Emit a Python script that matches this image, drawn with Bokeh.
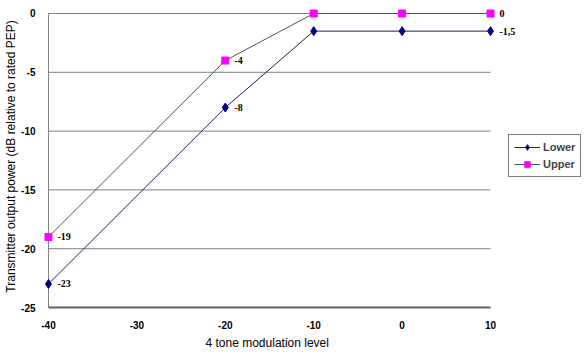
from bokeh.plotting import figure
from bokeh.models import Range1d, ColumnDataSource, LabelSet, Legend, LegendItem, FixedTicker, Title
from bokeh.embed import file_html
from bokeh.resources import INLINE

# Data
levels = [-40, -20, -10, 0, 10]
lower = [-23, -8, -1.5, -1.5, -1.5]
upper = [-19, -4, 0, 0, 0]
lower_lbl_x = [-40, -20, 10]
lower_lbl_y = [-23, -8, -1.5]
lower_lbl = ["-23", "-8", "-1,5"]
upper_lbl_x = [-40, -20, 10]
upper_lbl_y = [-19, -4, 0]
upper_lbl = ["-19", "-4", "0"]
x_ticks = [-40, -30, -20, -10, 0, 10]
y_ticks = [-25, -20, -15, -10, -5, 0]

FONT = "Liberation Sans"

p = figure(frame_width=546, frame_height=312, output_backend="svg", toolbar_location=None,
           x_range=Range1d(-40.79, 20.97), y_range=Range1d(-25.425, 1.105),
           min_border_left=41, min_border_right=0, min_border_top=0, min_border_bottom=0)
p.outline_line_color = None
p.grid.visible = False

# gridlines (from -40 to 10)
gx0 = [x_ticks[0]] * len(y_ticks)
gx1 = [x_ticks[-1]] * len(y_ticks)
p.segment(x0=gx0[1:], y0=y_ticks[1:], x1=gx1[1:], y1=y_ticks[1:], line_color="#808080", line_width=1)
# axis lines
p.segment(x0=[x_ticks[0]], y0=[y_ticks[0]], x1=[x_ticks[0]], y1=[y_ticks[-1]], line_color="#808080", line_width=1)
p.segment(x0=[x_ticks[0]], y0=[y_ticks[0]], x1=[x_ticks[-1]], y1=[y_ticks[0]], line_color="#606060", line_width=2)

# series
l_up = p.line(levels, upper, line_color="#505050", line_width=1)
m_up = p.scatter(levels, upper, marker="square", size=7, fill_color="#FF00FF", line_color="#FF00FF")
l_lo = p.line(levels, lower, line_color="#202050", line_width=1)
m_lo = p.scatter(levels, lower, marker="diamond", size=9, fill_color="#000080", line_color="#000080")

for xs, ys, ts in [(upper_lbl_x, upper_lbl_y, upper_lbl), (lower_lbl_x, lower_lbl_y, lower_lbl)]:
    src = ColumnDataSource(dict(x=xs, y=ys, t=ts))
    p.add_layout(LabelSet(x="x", y="y", text="t", source=src, x_offset=9, y_offset=0,
                          text_font=FONT, text_font_size="10px", text_font_style="bold",
                          text_baseline="middle", text_align="left", text_color="#000000"))

# axes
for ax in (p.xaxis[0], p.yaxis[0]):
    ax.axis_line_color = None
    ax.major_tick_line_color = None
    ax.minor_tick_line_color = None
    ax.major_label_text_font = FONT
    ax.major_label_text_font_size = "10px"
    ax.major_label_text_font_style = "bold"
    ax.major_label_text_color = "#000000"
    ax.axis_label_text_font = FONT
    ax.axis_label_text_font_size = "12px"
    ax.axis_label_text_font_style = "normal"
    ax.axis_label_text_color = "#000000"

p.xaxis.ticker = FixedTicker(ticks=x_ticks)
p.yaxis.ticker = FixedTicker(ticks=y_ticks)
p.xaxis.major_label_overrides = {t: str(t) for t in x_ticks}
p.yaxis.major_label_overrides = {t: str(t) for t in y_ticks}
p.xaxis.major_label_standoff = 2
p.yaxis.major_label_standoff = 0
p.yaxis.axis_label = "Transmitter output power (dB relative to rated PEP)"
p.yaxis.axis_label_standoff = 0

p.add_layout(Title(text="4 tone modulation level", align="left", offset=164, standoff=5,
                   text_font=FONT, text_font_size="12px", text_font_style="normal",
                   text_color="#000000"), "below")

legend = Legend(items=[LegendItem(label="Lower", renderers=[l_lo, m_lo]),
                       LegendItem(label="Upper", renderers=[l_up, m_up])],
                location=(467, 135), border_line_color="#000000", border_line_width=1,
                label_text_font=FONT, label_text_font_size="11px", label_text_font_style="bold",
                glyph_width=26, glyph_height=14, label_standoff=3, padding=5, spacing=3,
                margin=0, background_fill_color="white", label_height=14)
p.add_layout(legend, "center")

open("out.html", "w").write(file_html(p, INLINE))
